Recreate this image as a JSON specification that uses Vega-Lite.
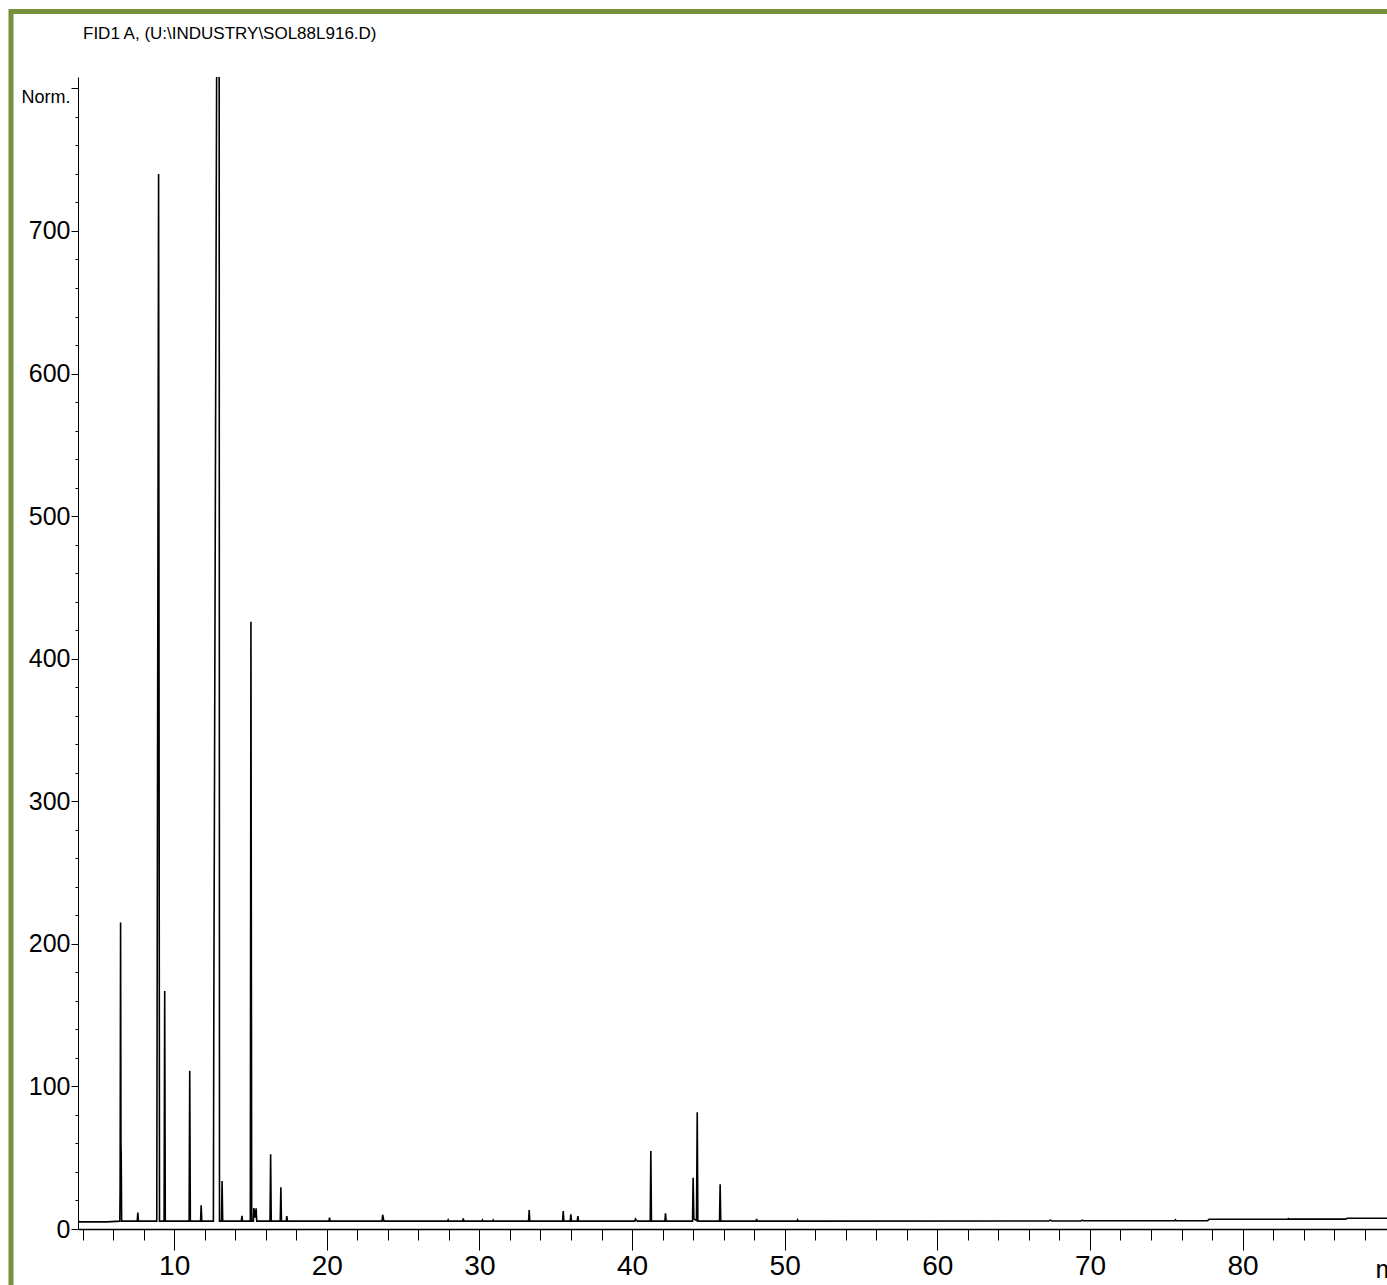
{
  "$schema": "https://vega.github.io/schema/vega-lite/v6.json",
  "width": 1309,
  "height": 1152,
  "autosize": {"type": "none"},
  "padding": {"left": 78, "top": 77, "right": 0, "bottom": 56},
  "background": "white",
  "config": {"view": {"stroke": null}, "font": "Liberation Sans"},
  "title": {
    "text": "FID1 A, (U:\\INDUSTRY\\SOL88L916.D)",
    "anchor": "start",
    "frame": "group",
    "dx": 5,
    "offset": -34,
    "fontSize": 17,
    "fontWeight": "normal",
    "color": "black",
    "font": "Liberation Sans"
  },
  "resolve": {"axis": {"x": "independent", "y": "independent"}},
  "layer": [
    {
      "data": {"values": [
        {"t": 3.70, "v": 6.5}, {"t": 3.75, "v": 5.0}, {"t": 5.60, "v": 5.0},
        {"t": 6.44, "v": 5.5}, {"t": 6.46, "v": 30}, {"t": 6.49, "v": 215}, {"t": 6.515, "v": 60}, {"t": 6.53, "v": 53}, {"t": 6.56, "v": 5.5},
        {"t": 7.58, "v": 5.5}, {"t": 7.62, "v": 11.5}, {"t": 7.66, "v": 5.5},
        {"t": 8.86, "v": 5.5}, {"t": 8.98, "v": 740}, {"t": 9.04, "v": 5.5},
        {"t": 9.34, "v": 5.5}, {"t": 9.38, "v": 167}, {"t": 9.42, "v": 5.5},
        {"t": 10.98, "v": 5.5}, {"t": 11.02, "v": 111}, {"t": 11.06, "v": 5.5},
        {"t": 11.73, "v": 5.5}, {"t": 11.77, "v": 16.6}, {"t": 11.81, "v": 5.5},
        {"t": 12.57, "v": 5.5}, {"t": 12.60, "v": 160}, {"t": 12.78, "v": 800}, {"t": 12.90, "v": 1150}, {"t": 12.95, "v": 800}, {"t": 12.97, "v": 5.5},
        {"t": 13.10, "v": 5.5}, {"t": 13.14, "v": 33.7}, {"t": 13.18, "v": 5.5},
        {"t": 14.40, "v": 5.5}, {"t": 14.44, "v": 9.3}, {"t": 14.48, "v": 5.5},
        {"t": 14.99, "v": 5.5}, {"t": 15.03, "v": 426}, {"t": 15.08, "v": 5.5},
        {"t": 15.19, "v": 5.5}, {"t": 15.22, "v": 14.7}, {"t": 15.30, "v": 8}, {"t": 15.37, "v": 14.5}, {"t": 15.41, "v": 5.5},
        {"t": 16.28, "v": 5.5}, {"t": 16.32, "v": 52.4}, {"t": 16.36, "v": 5.5},
        {"t": 16.95, "v": 5.5}, {"t": 16.99, "v": 29.2}, {"t": 17.03, "v": 5.5},
        {"t": 17.34, "v": 5.5}, {"t": 17.38, "v": 9.1}, {"t": 17.42, "v": 5.5},
        {"t": 20.14, "v": 5.5}, {"t": 20.18, "v": 7.9}, {"t": 20.22, "v": 5.5},
        {"t": 23.62, "v": 5.5}, {"t": 23.66, "v": 10}, {"t": 23.74, "v": 5.5},
        {"t": 27.92, "v": 5.5}, {"t": 27.95, "v": 6.3}, {"t": 27.98, "v": 5.5},
        {"t": 28.90, "v": 5.5}, {"t": 28.94, "v": 7.5}, {"t": 28.98, "v": 5.5},
        {"t": 30.17, "v": 5.5}, {"t": 30.20, "v": 6.2}, {"t": 30.23, "v": 5.5},
        {"t": 30.87, "v": 5.5}, {"t": 30.90, "v": 6.2}, {"t": 30.93, "v": 5.5},
        {"t": 33.22, "v": 5.5}, {"t": 33.26, "v": 13.3}, {"t": 33.30, "v": 5.5},
        {"t": 35.45, "v": 5.5}, {"t": 35.49, "v": 12.6}, {"t": 35.53, "v": 5.5},
        {"t": 35.95, "v": 5.5}, {"t": 35.99, "v": 10.3}, {"t": 36.03, "v": 5.5},
        {"t": 36.41, "v": 5.5}, {"t": 36.45, "v": 9.1}, {"t": 36.49, "v": 5.5},
        {"t": 40.18, "v": 5.5}, {"t": 40.22, "v": 7.0}, {"t": 40.30, "v": 6.0}, {"t": 40.36, "v": 5.5},
        {"t": 41.19, "v": 5.5}, {"t": 41.23, "v": 54.7}, {"t": 41.27, "v": 5.5},
        {"t": 42.15, "v": 5.5}, {"t": 42.19, "v": 11}, {"t": 42.23, "v": 5.5},
        {"t": 43.96, "v": 5.5}, {"t": 44.00, "v": 36}, {"t": 44.05, "v": 7}, {"t": 44.22, "v": 6}, {"t": 44.27, "v": 81.8}, {"t": 44.31, "v": 5.5},
        {"t": 45.73, "v": 5.5}, {"t": 45.77, "v": 31.3}, {"t": 45.81, "v": 5.5},
        {"t": 48.13, "v": 5.5}, {"t": 48.16, "v": 7}, {"t": 48.19, "v": 5.5},
        {"t": 50.81, "v": 5.5}, {"t": 50.84, "v": 6.3}, {"t": 50.87, "v": 5.5},
        {"t": 67.30, "v": 5.6}, {"t": 67.40, "v": 6.2}, {"t": 67.50, "v": 5.6},
        {"t": 69.40, "v": 5.7}, {"t": 69.50, "v": 6.1}, {"t": 69.60, "v": 5.8},
        {"t": 75.55, "v": 5.8}, {"t": 75.60, "v": 6.5}, {"t": 75.65, "v": 5.8},
        {"t": 77.70, "v": 5.8}, {"t": 77.80, "v": 6.8},
        {"t": 82.95, "v": 6.8}, {"t": 83.00, "v": 7.3}, {"t": 83.05, "v": 6.9},
        {"t": 86.75, "v": 6.9}, {"t": 86.85, "v": 7.5}, {"t": 89.46, "v": 7.5}
      ]},
      "mark": {"type": "line", "color": "black", "strokeWidth": 1.6, "clip": true},
      "encoding": {
        "x": {
          "field": "t", "type": "quantitative",
          "scale": {"domain": [3.7, 89.46], "nice": false, "zero": false},
          "axis": {
            "orient": "bottom",
            "values": [4,6,8,10,12,14,16,18,20,22,24,26,28,30,32,34,36,38,40,42,44,46,48,50,52,54,56,58,60,62,64,66,68,70,72,74,76,78,80,82,84,86,88],
            "tickSize": {"condition": {"test": "datum.value % 10 === 0", "value": 21}, "value": 11},
            "labelExpr": "datum.value % 10 === 0 ? datum.label : ''",
            "grid": false,
            "domainColor": "black", "domainWidth": 1.5,
            "tickColor": "black", "tickWidth": 1,
            "labelFont": "Liberation Sans",
            "labelFontSize": 28, "labelColor": "black", "labelPadding": 2,
            "labelFlush": false, "labelOverlap": false, "labelBound": false,
            "title": "min",
            "titleFont": "Liberation Sans",
            "titleFontSize": 26, "titleFontWeight": "normal", "titleColor": "black",
            "titleX": 1297, "titleY": 27, "titleAlign": "left", "titleBaseline": "top"
          }
        },
        "y": {
          "field": "v", "type": "quantitative",
          "scale": {"domain": [0, 808], "nice": false, "zero": false},
          "axis": {
            "orient": "left",
            "values": [0,20,40,60,80,100,120,140,160,180,200,220,240,260,280,300,320,340,360,380,400,420,440,460,480,500,520,540,560,580,600,620,640,660,680,700,720,740,760,780,800],
            "tickSize": {"condition": {"test": "datum.value % 100 === 0", "value": 7}, "value": 3},
            "labelExpr": "datum.value === 800 ? 'Norm.' : (datum.value % 100 === 0 ? datum.label : '')",
            "labelBaseline": {"condition": {"test": "datum.value === 800", "value": "top"}, "value": "middle"},
            "labelFontSize": {"condition": {"test": "datum.value === 800", "value": 18}, "value": 25},
            "grid": false,
            "domainColor": "black", "domainWidth": 1,
            "tickColor": "black", "tickWidth": 1,
            "labelFont": "Liberation Sans",
            "labelColor": "black", "labelPadding": 1,
            "labelFlush": false, "labelOverlap": false, "labelBound": false,
            "title": null
          }
        }
      }
    },
    {
      "data": {"values": [{}]},
      "mark": {"type": "rect", "fill": null, "stroke": "#76923C", "strokeWidth": 5, "clip": false},
      "encoding": {
        "x": {"datum": -0.69, "type": "quantitative", "axis": null},
        "x2": {"datum": 300},
        "y": {"datum": 854, "type": "quantitative", "axis": null},
        "y2": {"datum": -300}
      }
    }
  ]
}
